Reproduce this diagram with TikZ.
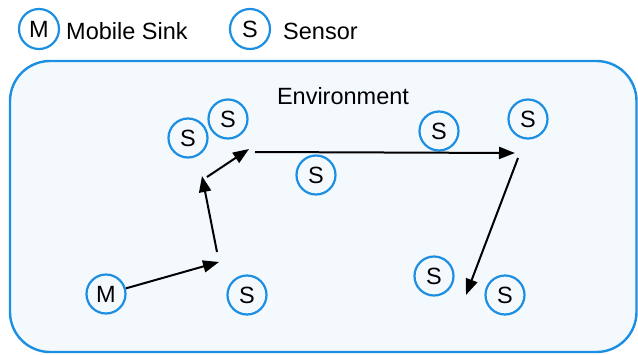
\documentclass[tikz,border=0pt]{standalone}
\usepackage{fontspec}
\setmainfont{Liberation Sans}
\usetikzlibrary{arrows.meta}
\definecolor{ringblue}{HTML}{1C8FE3}
\definecolor{envfill}{HTML}{F4F9FE}
\tikzset{
  agent/.style={circle, draw=ringblue, line width=2.2pt, minimum size=39pt, inner sep=0pt, font=\fontsize{23.5}{25}\selectfont},
  legendagent/.style={agent, minimum size=40pt},
  label text/.style={font=\fontsize{23.5}{25}\selectfont, inner sep=0pt},
  move/.style={line width=2pt, -{Triangle[length=16pt, width=12pt]}}
}
\begin{document}
\begin{tikzpicture}[x=1pt, y=-1pt]
\useasboundingbox (0,0) rectangle (638,354);

% legend
\node[legendagent] (lm) at (39,29) {M};
\node[label text, anchor=west] (lmt) at (66,31) {Mobile Sink};
\node[legendagent] (ls) at (250,29) {S};
\node[label text, anchor=west] (lst) at (283,31) {Sensor};

% environment area
\draw[draw=ringblue, fill=envfill, line width=2.4pt, rounded corners=40pt]
  (10,61) rectangle (636.5,352);
\node[label text] (env) at (343,96) {Environment};

% mobile sink and sensors
\node[agent] (m)  at (106,294) {M};
\node[agent] (s1) at (247,295) {S};
\node[agent] (s2) at (188,138) {S};
\node[agent] (s3) at (228,119) {S};
\node[agent] (s4) at (316,175) {S};
\node[agent] (s5) at (439,131) {S};
\node[agent] (s6) at (528,119) {S};
\node[agent] (s7) at (434,276) {S};
\node[agent] (s8) at (505,295) {S};

% waypoints of the sink's route
\coordinate (w1) at (219,262);
\coordinate (w2a) at (217,252);
\coordinate (w2) at (202,176);
\coordinate (w3a) at (207,177);
\coordinate (w3) at (249,149);
\coordinate (w4a) at (255,152);
\coordinate (w4) at (515,153);
\coordinate (w5a) at (518,158);
\coordinate (w5) at (466,295);

\draw[move] (m) -- (w1);
\draw[move] (w2a) -- (w2);
\draw[move] (w3a) -- (w3);
\draw[move] (w4a) -- (w4);
\draw[move] (w5a) -- (w5);
\end{tikzpicture}
\end{document}
